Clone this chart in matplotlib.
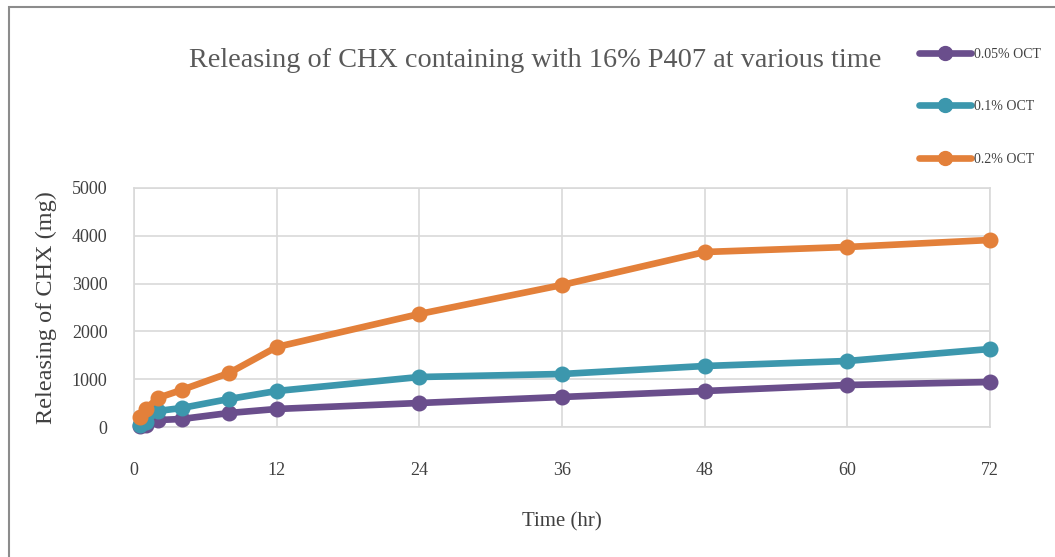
import numpy as np
import matplotlib.pyplot as plt
from matplotlib.patches import Rectangle

plt.rcParams['font.family'] = ['Liberation Serif', 'DejaVu Serif']

# sampling times (hr)
time_hr = [0.5, 1, 2, 4, 8, 12, 24, 36, 48, 60, 72]

# released CHX (mg) for each OCT concentration
oct_005 = [20, 50, 146, 167, 293, 377, 502, 628, 753, 879, 941]
oct_01 = [42, 105, 335, 397, 586, 753, 1046, 1109, 1276, 1381, 1632]
oct_02 = [209, 377, 607, 774, 1130, 1674, 2364, 2971, 3661, 3766, 3912]

labels = ['0.05% OCT', '0.1% OCT', '0.2% OCT']
colors = ['#6A4E8C', '#3C97AD', '#E3803A']

x_ticks = [0, 12, 24, 36, 48, 60, 72]
y_ticks = [0, 1000, 2000, 3000, 4000, 5000]

fig = plt.figure(figsize=(10.55, 5.57), dpi=100)
ax = fig.add_axes([134/1055, 1-427/557, (990-134)/1055, (427-188)/557])

for ys, lab, c in zip([oct_005, oct_01, oct_02], labels, colors):
    ax.plot(time_hr, ys, color=c, lw=4.8, marker='o', ms=10.5,
            solid_capstyle='round', label=lab, clip_on=False, zorder=3)

ax.set_xlim(0, 72)
ax.set_ylim(0, 5000)
ax.set_xticks(x_ticks)
ax.set_yticks(y_ticks)
ax.grid(True, color='#D9D9D9', lw=1.2)
ax.set_axisbelow(True)
for s in ax.spines.values():
    s.set_color('#D9D9D9')
    s.set_linewidth(1.2)
ax.tick_params(length=0, labelsize=13, colors='#404040')
ax.tick_params(axis='x', pad=25)
ax.tick_params(axis='y', pad=19)

ax.set_xlabel('Time (hr)', fontsize=15, color='#404040', labelpad=24)
ax.set_ylabel('Releasing of CHX (mg)', fontsize=17.5, color='#404040', labelpad=11)

fig.text(535/1055, 1 - 61/557, 'Releasing of CHX containing with 16% P407 at various time',
         ha='center', va='center', fontsize=20.3, color='#595959')

leg = fig.legend(loc='upper left', bbox_to_anchor=(906/1055, 1-35/557), frameon=False,
                 fontsize=10, labelspacing=2.85, handlelength=3.8, handletextpad=0.2,
                 labelcolor='#404040')
for h in leg.legend_handles:
    h.set_markersize(10)

# outer frame around the chart
fig.patches.append(Rectangle((9/1055, -0.1), 1.2, 1.1 - 7/557, transform=fig.transFigure,
                             fill=False, ec='#8C8C8C', lw=1.5))

fig.savefig('out.png', dpi=100)
